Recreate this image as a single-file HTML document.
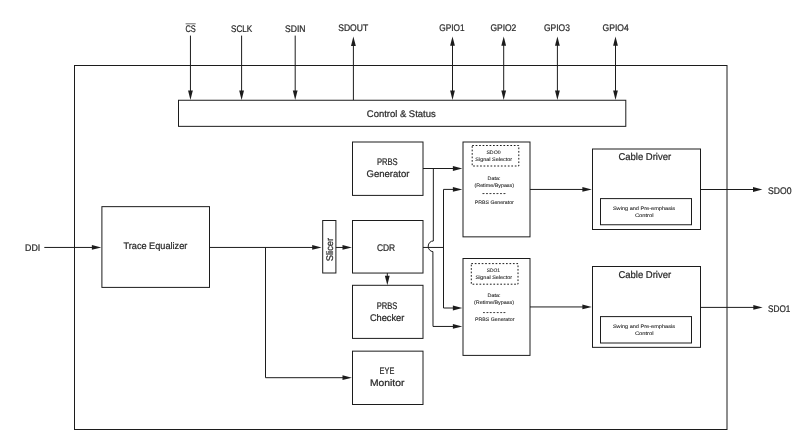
<!DOCTYPE html>
<html><head><meta charset="utf-8"><title>Block Diagram</title>
<style>html,body{margin:0;padding:0;background:#fff;}svg{display:block;will-change:transform;}text{font-family:"Liberation Sans",sans-serif;fill:#2a2a2a;text-rendering:geometricPrecision;}.l{stroke:#1c1c1c;stroke-width:1;fill:none;}.b{stroke:#1c1c1c;stroke-width:1;fill:#fff;}.a{fill:#1c1c1c;stroke:none;}.t,.c{stroke:#2a2a2a;stroke-width:0.24px;}.t{font-size:9.6px;}.s{font-size:5.1px;stroke:#2a2a2a;stroke-width:0.1px;}.c{font-size:9.9px;}</style></head><body>
<svg width="807" height="446" viewBox="0 0 807 446">
<rect x="0" y="0" width="807" height="446" fill="#fff"/>
<rect class="l" x="74.50" y="65.50" width="652.50" height="364.00"/>
<rect class="b" x="178.50" y="100.25" width="447.30" height="26.10"/>
<polyline class="l" points="190.45,35.60 190.45,95.00"/>
<polygon class="a" points="190.45,100.00 188.05,90.60 190.45,90.60 192.85,90.60"/>
<polyline class="l" points="241.60,35.60 241.60,95.00"/>
<polygon class="a" points="241.60,100.00 239.20,90.60 241.60,90.60 244.00,90.60"/>
<polyline class="l" points="295.20,35.60 295.20,95.00"/>
<polygon class="a" points="295.20,100.00 292.80,90.60 295.20,90.60 297.60,90.60"/>
<polyline class="l" points="353.40,100.00 353.40,43.00"/>
<polygon class="a" points="353.40,36.50 351.00,45.90 353.40,45.90 355.80,45.90"/>
<polyline class="l" points="452.50,41.00 452.50,95.00"/>
<polygon class="a" points="452.50,36.40 450.10,45.80 452.50,45.80 454.90,45.80"/>
<polygon class="a" points="452.50,100.00 450.10,90.60 452.50,90.60 454.90,90.60"/>
<polyline class="l" points="503.70,41.00 503.70,95.00"/>
<polygon class="a" points="503.70,36.40 501.30,45.80 503.70,45.80 506.10,45.80"/>
<polygon class="a" points="503.70,100.00 501.30,90.60 503.70,90.60 506.10,90.60"/>
<polyline class="l" points="557.40,41.00 557.40,95.00"/>
<polygon class="a" points="557.40,36.40 555.00,45.80 557.40,45.80 559.80,45.80"/>
<polygon class="a" points="557.40,100.00 555.00,90.60 557.40,90.60 559.80,90.60"/>
<polyline class="l" points="615.50,41.00 615.50,95.00"/>
<polygon class="a" points="615.50,36.40 613.10,45.80 615.50,45.80 617.90,45.80"/>
<polygon class="a" points="615.50,100.00 613.10,90.60 615.50,90.60 617.90,90.60"/>
<rect class="b" x="101.90" y="206.65" width="107.60" height="80.75"/>
<rect class="b" x="322.70" y="220.50" width="13.20" height="52.50"/>
<rect class="b" x="352.50" y="142.00" width="70.50" height="53.40"/>
<rect class="b" x="352.50" y="220.50" width="70.50" height="52.55"/>
<rect class="b" x="352.50" y="285.30" width="70.50" height="53.10"/>
<rect class="b" x="352.50" y="351.15" width="70.50" height="53.35"/>
<rect class="b" x="463.00" y="142.00" width="67.00" height="94.85"/>
<rect class="b" x="463.00" y="258.50" width="67.00" height="96.90"/>
<rect class="l" x="472.20" y="145.50" width="46.60" height="20.50" stroke-dasharray="1.7 1.77"/>
<rect class="l" x="471.30" y="263.60" width="46.70" height="20.60" stroke-dasharray="1.7 1.77"/>
<rect class="b" x="592.50" y="149.00" width="108.00" height="80.50"/>
<rect class="b" x="600.50" y="198.60" width="91.00" height="26.15"/>
<rect class="b" x="592.50" y="266.50" width="108.00" height="80.85"/>
<rect class="b" x="600.50" y="316.60" width="91.00" height="26.40"/>
<polyline class="l" points="44.30,247.45 96.00,247.45"/>
<polygon class="a" points="101.30,247.45 91.90,245.05 91.90,247.45 91.90,249.85"/>
<polyline class="l" points="209.50,247.45 316.00,247.45"/>
<polygon class="a" points="321.60,247.45 312.20,245.05 312.20,247.45 312.20,249.85"/>
<polyline class="l" points="335.90,247.45 346.00,247.45"/>
<polygon class="a" points="351.90,247.45 342.50,245.05 342.50,247.45 342.50,249.85"/>
<polyline class="l" points="265.50,247.45 265.50,377.70 346.00,377.70"/>
<polygon class="a" points="351.90,377.70 342.50,375.30 342.50,377.70 342.50,380.10"/>
<polyline class="l" points="387.30,273.05 387.30,278.00"/>
<polygon class="a" points="387.30,285.20 384.90,275.80 387.30,275.80 389.70,275.80"/>
<polyline class="l" points="423.00,168.50 457.00,168.50"/>
<polygon class="a" points="462.30,168.50 452.90,166.10 452.90,168.50 452.90,170.90"/>
<path class="l" d="M433.35,168.5 L433.3,241.0 A4.9,5.3 0 0 0 432.9,251.6 L433.0,326.45 L457,326.45"/>
<polygon class="a" points="462.30,326.45 452.90,324.05 452.90,326.45 452.90,328.85"/>
<polyline class="l" points="423.00,247.45 443.50,247.45"/>
<polyline class="l" points="457.00,189.40 443.50,189.40 443.50,308.00 457.00,308.00"/>
<polygon class="a" points="462.30,189.40 452.90,187.00 452.90,189.40 452.90,191.80"/>
<polygon class="a" points="462.30,308.00 452.90,305.60 452.90,308.00 452.90,310.40"/>
<polyline class="l" points="530.00,189.45 587.00,189.45"/>
<polygon class="a" points="591.80,189.45 582.40,187.05 582.40,189.45 582.40,191.85"/>
<polyline class="l" points="530.00,306.95 587.00,306.95"/>
<polygon class="a" points="591.80,306.95 582.40,304.55 582.40,306.95 582.40,309.35"/>
<polyline class="l" points="700.50,189.50 756.00,189.50"/>
<polygon class="a" points="762.40,189.50 753.00,187.10 753.00,189.50 753.00,191.90"/>
<polyline class="l" points="700.50,307.40 756.00,307.40"/>
<polygon class="a" points="762.70,307.40 753.30,305.00 753.30,307.40 753.30,309.80"/>
<text class="t" x="185.50" y="32.35" textLength="10.30" lengthAdjust="spacingAndGlyphs">CS</text>
<line x1="185.6" y1="23.8" x2="195.7" y2="23.8" stroke="#3a3a3a" stroke-width="0.75"/>
<text class="t" x="231.00" y="32.30" textLength="21.30" lengthAdjust="spacingAndGlyphs">SCLK</text>
<text class="t" x="285.00" y="32.30" textLength="20.50" lengthAdjust="spacingAndGlyphs">SDIN</text>
<text class="t" x="338.20" y="30.80" textLength="30.00" lengthAdjust="spacingAndGlyphs">SDOUT</text>
<text class="t" x="439.20" y="30.80" textLength="25.30" lengthAdjust="spacingAndGlyphs">GPIO1</text>
<text class="t" x="490.40" y="30.80" textLength="25.90" lengthAdjust="spacingAndGlyphs">GPIO2</text>
<text class="t" x="544.00" y="30.80" textLength="25.90" lengthAdjust="spacingAndGlyphs">GPIO3</text>
<text class="t" x="602.50" y="30.80" textLength="26.20" lengthAdjust="spacingAndGlyphs">GPIO4</text>
<text class="t" x="366.80" y="116.70" textLength="68.90" lengthAdjust="spacingAndGlyphs">Control &amp; Status</text>
<text class="t" x="25.10" y="250.70" textLength="15.20" lengthAdjust="spacingAndGlyphs">DDI</text>
<text class="t" x="123.50" y="248.80" textLength="63.80" lengthAdjust="spacingAndGlyphs">Trace Equalizer</text>
<text class="t" x="376.90" y="164.70" textLength="20.80" lengthAdjust="spacingAndGlyphs">PRBS</text>
<text class="t" x="366.60" y="176.70" textLength="42.80" lengthAdjust="spacingAndGlyphs">Generator</text>
<text class="t" x="376.90" y="250.80" textLength="18.30" lengthAdjust="spacingAndGlyphs">CDR</text>
<text class="t" x="376.80" y="308.70" textLength="20.60" lengthAdjust="spacingAndGlyphs">PRBS</text>
<text class="t" x="369.90" y="320.70" textLength="34.40" lengthAdjust="spacingAndGlyphs">Checker</text>
<text class="t" x="379.60" y="373.60" textLength="14.70" lengthAdjust="spacingAndGlyphs">EYE</text>
<text class="t" x="370.00" y="385.60" textLength="34.40" lengthAdjust="spacingAndGlyphs">Monitor</text>
<text class="t" transform="translate(332.8,261.2) rotate(-90)" x="0" y="0" textLength="23.4" lengthAdjust="spacingAndGlyphs">Slicer</text>
<text class="c" x="618.40" y="160.00" textLength="52.80" lengthAdjust="spacingAndGlyphs">Cable Driver</text>
<text class="c" x="618.40" y="277.60" textLength="52.80" lengthAdjust="spacingAndGlyphs">Cable Driver</text>
<text class="t" x="768.00" y="193.90" textLength="23.50" lengthAdjust="spacingAndGlyphs">SDO0</text>
<text class="t" x="768.00" y="311.80" textLength="22.40" lengthAdjust="spacingAndGlyphs">SDO1</text>
<text class="s" x="486.40" y="153.80" textLength="14.20" lengthAdjust="spacingAndGlyphs">SDO0</text>
<text class="s" x="475.30" y="160.50" textLength="36.80" lengthAdjust="spacingAndGlyphs">Signal Selector</text>
<text class="s" x="487.60" y="180.30" textLength="12.80" lengthAdjust="spacingAndGlyphs">Data:</text>
<text class="s" x="474.50" y="186.90" textLength="39.50" lengthAdjust="spacingAndGlyphs">(Retime/Bypass)</text>
<text class="s" x="482.40" y="195.10" textLength="23.00" lengthAdjust="spacingAndGlyphs" style="stroke-width:0.45px">- - - - - - -</text>
<text class="s" x="474.80" y="204.30" textLength="39.00" lengthAdjust="spacingAndGlyphs">PRBS Generator</text>
<text class="s" x="486.70" y="271.80" textLength="13.20" lengthAdjust="spacingAndGlyphs">SDO1</text>
<text class="s" x="475.50" y="278.60" textLength="36.60" lengthAdjust="spacingAndGlyphs">Signal Selector</text>
<text class="s" x="487.50" y="297.20" textLength="13.00" lengthAdjust="spacingAndGlyphs">Data:</text>
<text class="s" x="474.00" y="303.65" textLength="40.00" lengthAdjust="spacingAndGlyphs">(Retime/Bypass)</text>
<text class="s" x="483.00" y="313.55" textLength="22.50" lengthAdjust="spacingAndGlyphs" style="stroke-width:0.45px">- - - - - - -</text>
<text class="s" x="475.00" y="320.95" textLength="39.40" lengthAdjust="spacingAndGlyphs">PRBS Generator</text>
<text class="s" x="612.90" y="210.10" textLength="62.10" lengthAdjust="spacingAndGlyphs">Swing and Pre-emphasis</text>
<text class="s" x="634.90" y="217.10" textLength="18.60" lengthAdjust="spacingAndGlyphs">Control</text>
<text class="s" x="612.90" y="328.10" textLength="62.10" lengthAdjust="spacingAndGlyphs">Swing and Pre-emphasis</text>
<text class="s" x="634.90" y="335.10" textLength="18.60" lengthAdjust="spacingAndGlyphs">Control</text>
</svg></body></html>
